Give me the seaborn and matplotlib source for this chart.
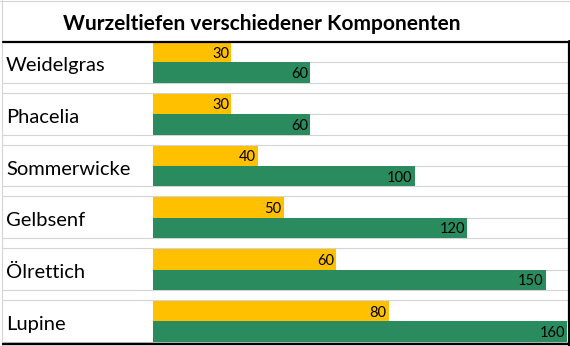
import numpy as np
import pandas as pd
import seaborn as sns
import matplotlib
matplotlib.use("Agg")
import matplotlib.pyplot as plt
from matplotlib.lines import Line2D
import matplotlib.transforms as mtransforms

# ---- data ----
komponenten = ["Weidelgras", "Phacelia", "Sommerwicke", "Gelbsenf", "Ölrettich", "Lupine"]
serien = ["Serie 1", "Serie 2"]
gelb_werte = [30, 30, 40, 50, 70, 90]          # bar lengths as drawn
gruen_werte = [60, 60, 100, 120, 150, 160]
gelb_beschriftung = ["30", "30", "40", "50", "60", "80"]   # labels as printed
gruen_beschriftung = ["60", "60", "100", "120", "150", "160"]
titel = "Wurzeltiefen verschiedener Komponenten"

GELB = "#FFC000"
GRUEN = "#2A8C5E"
GRID = "#D4D4D4"

df = pd.DataFrame({
    "Komponente": komponenten * 2,
    "Serie": [serien[0]] * len(komponenten) + [serien[1]] * len(komponenten),
    "Wert": gelb_werte + gruen_werte,
})

sns.set_theme(style="white")
plt.rcParams["font.family"] = ["Lato", "DejaVu Sans"]

W, H = 570, 346
fig = plt.figure(figsize=(W / 100, H / 100), dpi=100)
fig.patch.set_facecolor("white")

def fx(px):
    return px / W

def fy(py):
    return 1 - py / H

x_left, x_right = 152.7, 567.0
y_top, y_bot = 42.0, 343.0
row_px = 51.8
px_per_unit = 2.62

ax = fig.add_axes([fx(x_left), fy(y_bot), fx(x_right) - fx(x_left), fy(y_top) - fy(y_bot)])
bar_w = 0.394
sns.barplot(data=df, y="Komponente", x="Wert", hue="Serie", orient="h",
            palette=[GELB, GRUEN], width=2 * bar_w, dodge=True, saturation=1,
            legend=False, ax=ax, zorder=3)
for p in ax.patches:
    p.set_edgecolor("none")
    p.set_linewidth(0)

xmax = (x_right - x_left) / px_per_unit
ax.set_xlim(0, xmax)
ymin_data = -bar_w
ymax_data = -bar_w + (y_bot - y_top) / row_px
ax.set_ylim(ymax_data, ymin_data)
ax.axis("off")

# blended transform: x in figure fraction, y in data
btr = mtransforms.blended_transform_factory(fig.transFigure, ax.transData)

for i, name in enumerate(komponenten):
    # light grid lines
    for yy, x0 in [(i, fx(x_left)), (i + bar_w, fx(2.5)), (i - bar_w + 50.7 / row_px, fx(2.5))]:
        if yy > ymax_data:
            continue
        ln = Line2D([x0, fx(x_right)], [yy, yy], transform=btr, color=GRID,
                    lw=0.8, zorder=1, clip_on=False)
        ax.add_line(ln)
    # category label
    ax.text(fx(6), i - bar_w + 29 / row_px, name, transform=btr, ha="left",
            va="baseline", fontsize=14.5, color="black", clip_on=False)
    # value labels
    ax.annotate(gelb_beschriftung[i], xy=(gelb_werte[i], i - bar_w / 2),
                xytext=(-1.5, -1), textcoords="offset points", ha="right",
                va="center", fontsize=10.5, color="black", zorder=5)
    ax.annotate(gruen_beschriftung[i], xy=(min(gruen_werte[i], xmax), i + bar_w / 2),
                xytext=(-1.5, -1), textcoords="offset points", ha="right",
                va="center", fontsize=10.5, color="black", zorder=5)

# title
fig.text(fx(262), fy(29.5), titel, ha="center", va="baseline",
         fontsize=15, fontweight="bold", color="black")

# borders
fig.add_artist(Line2D([fx(2), fx(2)], [0, 1], color=GRID, lw=0.8))
fig.add_artist(Line2D([0, 1], [fy(1), fy(1)], color=GRID, lw=0.8))
fig.add_artist(Line2D([fx(2.5), 1], [fy(41.5), fy(41.5)], color="black", lw=1.6))
fig.add_artist(Line2D([fx(2.5), 1], [fy(343.8), fy(343.8)], color="black", lw=1.7))
fig.add_artist(Line2D([fx(568.5), fx(568.5)], [fy(40.5), 0], color="black", lw=2.3))

fig.savefig("out.png", dpi=100, facecolor="white")
